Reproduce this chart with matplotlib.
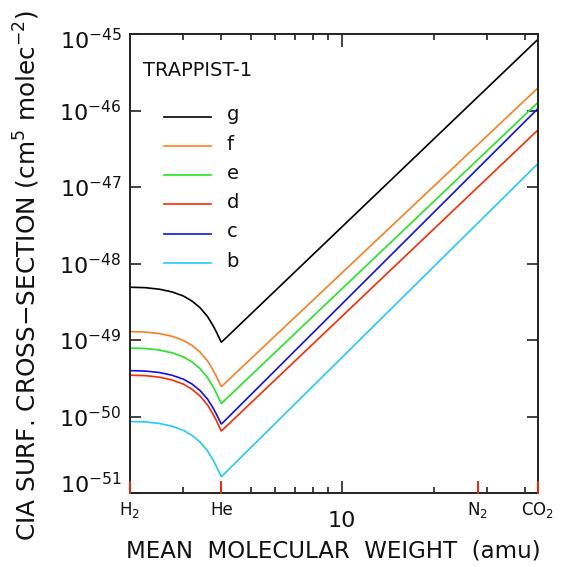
import numpy as np
import matplotlib
matplotlib.use("Agg")
import matplotlib.pyplot as plt
from matplotlib.lines import Line2D
from matplotlib.ticker import FixedLocator, NullFormatter
import matplotlib.transforms as mtransforms

plt.rcParams['font.family'] = ['DejaVu Sans']
plt.rcParams['mathtext.fontset'] = 'dejavusans'

# Mean molecular weight (amu) sample points
mu = [2.0, 2.25, 2.5, 2.75, 3.0, 3.2, 3.4, 3.6, 3.75, 3.85, 3.95, 4.0, 44.0]

# log10 of the CIA surface cross-section (cm^5 molec^-2) for each planet
log_sigma_g = [-48.310, -48.316, -48.336, -48.371, -48.425, -48.490, -48.576,
               -48.692, -48.807, -48.893, -48.987, -49.030, -45.075]
log_sigma_f = [-48.890, -48.896, -48.916, -48.951, -49.005, -49.070, -49.156,
               -49.272, -49.387, -49.473, -49.567, -49.610, -45.710]
log_sigma_e = [-49.105, -49.111, -49.131, -49.167, -49.221, -49.286, -49.373,
               -49.489, -49.605, -49.692, -49.787, -49.830, -45.900]
log_sigma_d = [-49.460, -49.466, -49.486, -49.522, -49.577, -49.643, -49.730,
               -49.847, -49.964, -50.051, -50.146, -50.190, -46.260]
log_sigma_c = [-49.400, -49.406, -49.425, -49.460, -49.512, -49.575, -49.659,
               -49.771, -49.883, -49.967, -50.058, -50.100, -45.980]
log_sigma_b = [-50.065, -50.071, -50.091, -50.126, -50.181, -50.246, -50.332,
               -50.448, -50.563, -50.650, -50.744, -50.787, -46.700]

planets = ['g', 'f', 'e', 'd', 'c', 'b']
series = [log_sigma_g, log_sigma_f, log_sigma_e, log_sigma_d, log_sigma_c, log_sigma_b]
colors = ['#000000', '#ff7f1f', '#22e822', '#ff2a00', '#1010f0', '#20ccff']

# Reference gases marked on the x axis
gas_mu = [2.0, 4.0, 28.0, 44.0]
gas_labels = [r'H$_2$', 'He', r'N$_2$', r'CO$_2$']

text_col = '#111111'
axis_col = '#222222'

fig = plt.figure(figsize=(5.70, 5.67), dpi=100)
ax = fig.add_axes([0.228, 0.1305, 0.715, 0.8095])

for vals, col in zip(series, colors):
    ax.plot(mu, 10.0 ** np.array(vals), color=col, lw=1.2, solid_joinstyle='miter')

ax.set_xscale('log')
ax.set_yscale('log')
ax.set_xlim(2.0, 44.0)
ax.set_ylim(1e-51, 1e-45)

for sp in ax.spines.values():
    sp.set_linewidth(1.4)
    sp.set_color(axis_col)

# y ticks: decades only, on both sides
ydec = [10.0 ** k for k in range(-51, -44)]
ax.yaxis.set_major_locator(FixedLocator(ydec))
ax.yaxis.set_minor_locator(FixedLocator([]))
ax.set_yticklabels([r'$10^{%d}$' % k for k in range(-51, -44)])
ax.tick_params(axis='y', which='major', direction='in', length=8, width=1.2,
               color=axis_col, labelsize=16, pad=6, left=True, right=True,
               labelcolor=text_col)
# keep the end labels inside the axis range
ylabels = ax.get_yticklabels()
ylabels[0].set_transform(ylabels[0].get_transform() +
                         mtransforms.ScaledTranslation(0, 10 / 100, fig.dpi_scale_trans))
ylabels[-1].set_transform(ylabels[-1].get_transform() +
                          mtransforms.ScaledTranslation(0, -5 / 100, fig.dpi_scale_trans))

# x ticks: 10 is major, the rest minor; labels drawn separately
ax.xaxis.set_major_locator(FixedLocator([10.0]))
ax.xaxis.set_minor_locator(FixedLocator([3, 4, 5, 6, 7, 8, 9, 20, 30, 40]))
ax.xaxis.set_major_formatter(NullFormatter())
ax.xaxis.set_minor_formatter(NullFormatter())
ax.tick_params(axis='x', which='major', direction='in', length=9, width=1.2,
               color=axis_col, bottom=True, top=True)
ax.tick_params(axis='x', which='minor', direction='in', length=4.5, width=1.2,
               color=axis_col, bottom=True, top=True)

trans = mtransforms.blended_transform_factory(ax.transData, ax.transAxes)
# red gas markers along the bottom axis
for g in gas_mu:
    ax.plot([g, g], [0.0, 0.025], color='#ff2000', lw=1.4, transform=trans,
            clip_on=False, zorder=5)
for g, lab in zip(gas_mu, gas_labels):
    ax.text(g, -0.038, lab, transform=trans, ha='center', va='center',
            fontsize=12, color=text_col)
ax.text(10.0, -0.062, '10', transform=trans, ha='center', va='center',
        fontsize=16, color=text_col)

ax.set_xlabel('MEAN  MOLECULAR  WEIGHT  (amu)', fontsize=16.5, color=text_col,
              va='center')
ax.xaxis.set_label_coords(0.5, -0.126)
ax.set_ylabel(r'CIA SURF. CROSS$-$SECTION (cm$^5$ molec$^{-2}$)',
              fontsize=17.8, color=text_col, va='center')
ax.yaxis.set_label_coords(-0.252, 0.475)

# Title tag and legend keys
ax.text(0.031, 0.9216, 'TRAPPIST-1', transform=ax.transAxes, ha='left',
        va='center', fontsize=14, color=text_col)
y0 = 0.820
dy = 0.0638
for i, (p, col) in enumerate(zip(planets, colors)):
    yy = y0 - i * dy
    ax.add_line(Line2D([0.084, 0.199], [yy, yy], transform=ax.transAxes,
                       color=col, lw=1.2))
    ax.text(0.237, yy + 0.004, p, transform=ax.transAxes, ha='left',
            va='center', fontsize=14, color=text_col)

fig.savefig('out.png', dpi=100)
